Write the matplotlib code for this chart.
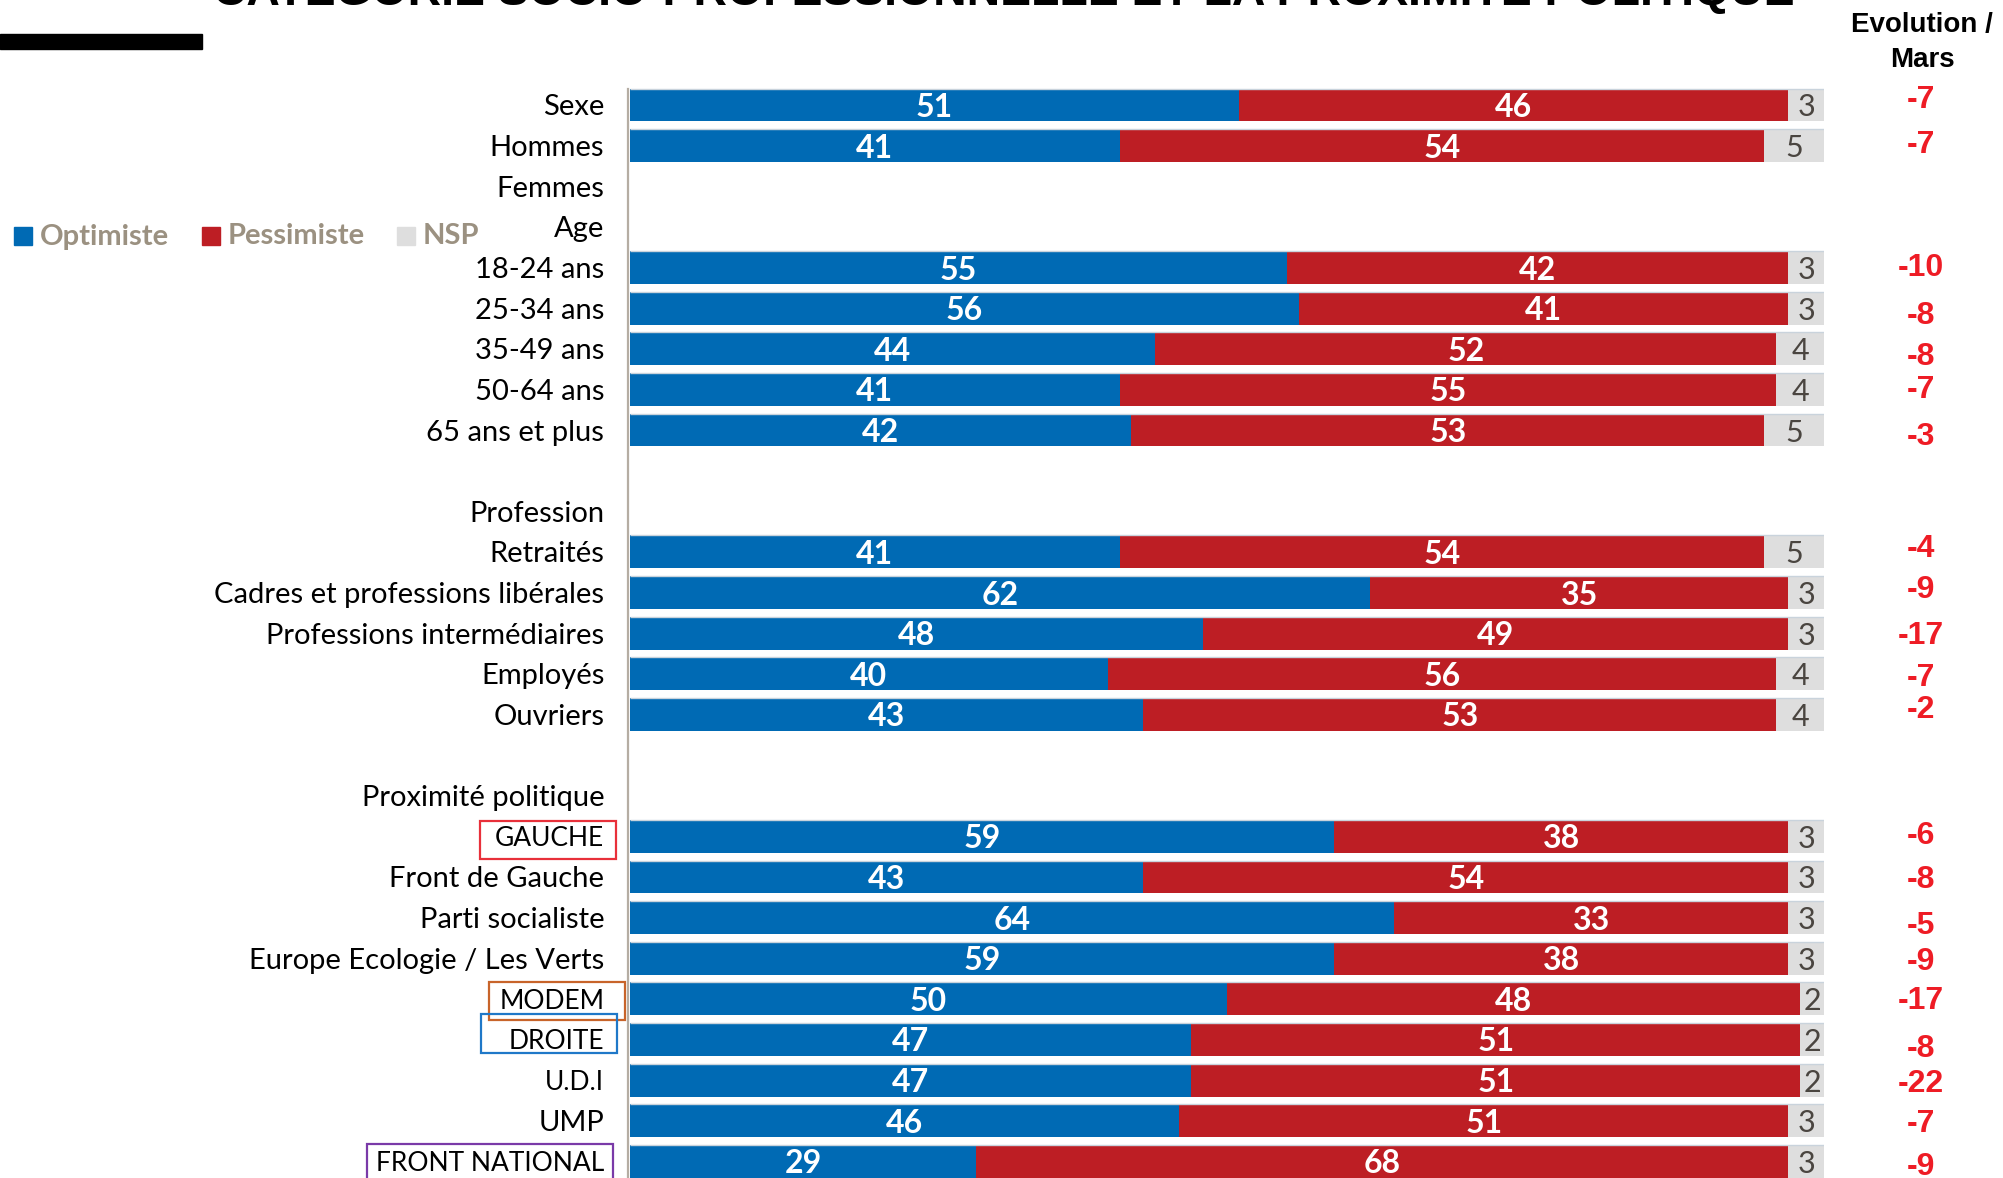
import numpy as np
import matplotlib
matplotlib.use("Agg")
import matplotlib.pyplot as plt
from matplotlib.patches import Rectangle

# ---------------- data ----------------
categories = ["Sexe", "Hommes", "Femmes", "Age", "18-24 ans", "25-34 ans", "35-49 ans",
              "50-64 ans", "65 ans et plus", "", "Profession", "Retraités",
              "Cadres et professions libérales", "Professions intermédiaires", "Employés",
              "Ouvriers", "", "Proximité politique", "GAUCHE", "Front de Gauche",
              "Parti socialiste", "Europe Ecologie / Les Verts", "MODEM", "DROITE",
              "U.D.I", "UMP", "FRONT NATIONAL"]
optimiste = [51, 41, None, None, 55, 56, 44, 41, 42, None, None, 41, 62, 48, 40, 43,
             None, None, 59, 43, 64, 59, 50, 47, 47, 46, 29]
pessimiste = [46, 54, None, None, 42, 41, 52, 55, 53, None, None, 54, 35, 49, 56, 53,
              None, None, 38, 54, 33, 38, 48, 51, 51, 51, 68]
nsp = [3, 5, None, None, 3, 3, 4, 4, 5, None, None, 5, 3, 3, 4, 4,
       None, None, 3, 3, 3, 3, 2, 2, 2, 3, 3]
evolution = ["-7", "-7", None, None, "-10", "-8", "-8", "-7", "-3", None, None,
             "-4", "-9", "-17", "-7", "-2", None, None, "-6", "-8", "-5", "-9",
             "-17", "-8", "-22", "-7", "-9"]
legend_labels = ["Optimiste", "Pessimiste", "NSP"]
title = "CATÉGORIE SOCIO-PROFESSIONNELLE ET LA PROXIMITÉ POLITIQUE"
evo_header = ["Evolution /", "Mars"]

# layout-only: small vertical offsets (px) of the evolution figures
evo_dy = [-8, -4, 0, 0, -3, 4, 5, -3, 3, 0, 0, -6, -6, -1, 1, -8, 0, 0,
          -4, 0, 5, 0, -1, 6, 0, 0, 2]

# ---------------- style ----------------
W, H = 2003, 1178
BLUE = "#006AB4"
RED = "#BD1E24"
GRAY = "#DEDEDE"
EVO_RED = "#EE1C25"
LEG_TXT = "#9B9181"
NSP_TXT = "#4A4540"
SANS = ["Lato", "DejaVu Sans"]
ARIAL = ["Liberation Sans", "DejaVu Sans"]

fig = plt.figure(figsize=(W / 100, H / 100), dpi=100)
fig.patch.set_facecolor("white")

def fx(x):
    return x / W

def fy(y):
    return 1 - y / H

row0, step = 105.0, 40.63
ytop = -row0 / step
ybot = (H - row0) / step
x0, x100 = 630.0, 1824.0
ax = fig.add_axes([fx(x0), 0, (x100 - x0) / W, 1])
ax.set_xlim(0, 100)
ax.set_ylim(ybot, ytop)
ax.set_facecolor("none")
for s in ax.spines.values():
    s.set_visible(False)
ax.tick_params(axis="x", bottom=False, labelbottom=False)

ypos = np.arange(len(categories))
ax.set_yticks(ypos, categories)
ax.tick_params(axis="y", length=0, pad=18.5)
for lab in ax.get_yticklabels():
    txt = lab.get_text()
    lab.set_fontfamily(SANS)
    # all-caps labels are set slightly smaller (narrower caps in the original font)
    lab.set_fontsize(19 if (txt.isupper() and len(txt) > 4) else 21)
    lab.set_color("black")

bh = 0.81
idx = [i for i, v in enumerate(optimiste) if v is not None]
o = np.array([optimiste[i] for i in idx], float)
p = np.array([pessimiste[i] for i in idx], float)
n = np.array([nsp[i] for i in idx], float)
yy = ypos[idx]
ax.barh(yy, o, height=bh, color=BLUE, linewidth=0)
ax.barh(yy, p, left=o, height=bh, color=RED, linewidth=0)
ax.barh(yy, n, left=o + p, height=bh, color=GRAY, linewidth=0)
# faint light line on top of each bar
ax.hlines(yy - bh / 2, 0, o + p + n, color="#C9D3DC", lw=1.0)

for k, i in enumerate(idx):
    ax.text(o[k] / 2, yy[k], f"{int(o[k])}", ha="center", va="center_baseline",
            color="white", fontsize=23, fontweight="bold", family=SANS)
    ax.text(o[k] + p[k] / 2, yy[k], f"{int(p[k])}", ha="center", va="center_baseline",
            color="white", fontsize=23, fontweight="bold", family=SANS)
    ax.text(o[k] + p[k] + n[k] / 2, yy[k], f"{int(n[k])}", ha="center",
            va="center_baseline", color=NSP_TXT, fontsize=22, family=SANS)

# vertical axis line
ax.plot([-0.15, -0.15], [-bh / 2, ybot], color="#B5ADA3", lw=1.6, clip_on=False)

# evolution column
for i, e in enumerate(evolution):
    if e is None:
        continue
    yc = row0 + step * i + evo_dy[i]
    fig.text(fx(1921), fy(yc), e, ha="center", va="center_baseline", color=EVO_RED,
             fontsize=23, fontweight="bold", family=ARIAL)

for line, yc in zip(evo_header, [22, 57]):
    fig.text(fx(1922), fy(yc), line, ha="center", va="center_baseline", color="black",
             fontsize=20, fontweight="bold", family=ARIAL)

# title (cut at the top of the image, as in the reference)
fig.text(fx(213), fy(5), title, ha="left", va="baseline", color="black",
         fontsize=33.4, fontweight="bold", family=ARIAL)

# black bar under title area
fig.patches.append(Rectangle((0, fy(49)), fx(202), (49 - 34) / H,
                             transform=fig.transFigure, color="black", zorder=3))

# legend
leg_colors = [BLUE, RED, GRAY]
sq_x = [14, 202, 397]
txt_x = [40, 228, 423]
for c, sx, tx, lab in zip(leg_colors, sq_x, txt_x, legend_labels):
    fig.patches.append(Rectangle((fx(sx), fy(245)), 18 / W, 18 / H,
                                 transform=fig.transFigure, color=c, zorder=3))
    fig.text(fx(tx), fy(234), lab, ha="left", va="center_baseline", color=LEG_TXT,
             fontsize=21, fontweight="bold", family=SANS)

# frames around some labels (px: x0, y0, x1, y1, colour)
frames = [(480, 821, 616, 859, "#E8303A"),
          (489, 982, 625, 1020, "#C8642A"),
          (481, 1014, 617, 1053, "#1F78C8"),
          (367, 1144, 613, 1190, "#7A3AA8")]
for (a, b, c, d, col) in frames:
    fig.patches.append(Rectangle((fx(a), fy(d)), (c - a) / W, (d - b) / H,
                                 transform=fig.transFigure, fill=False,
                                 edgecolor=col, lw=1.6, zorder=4))

fig.savefig("out.png", dpi=100, facecolor="white")
